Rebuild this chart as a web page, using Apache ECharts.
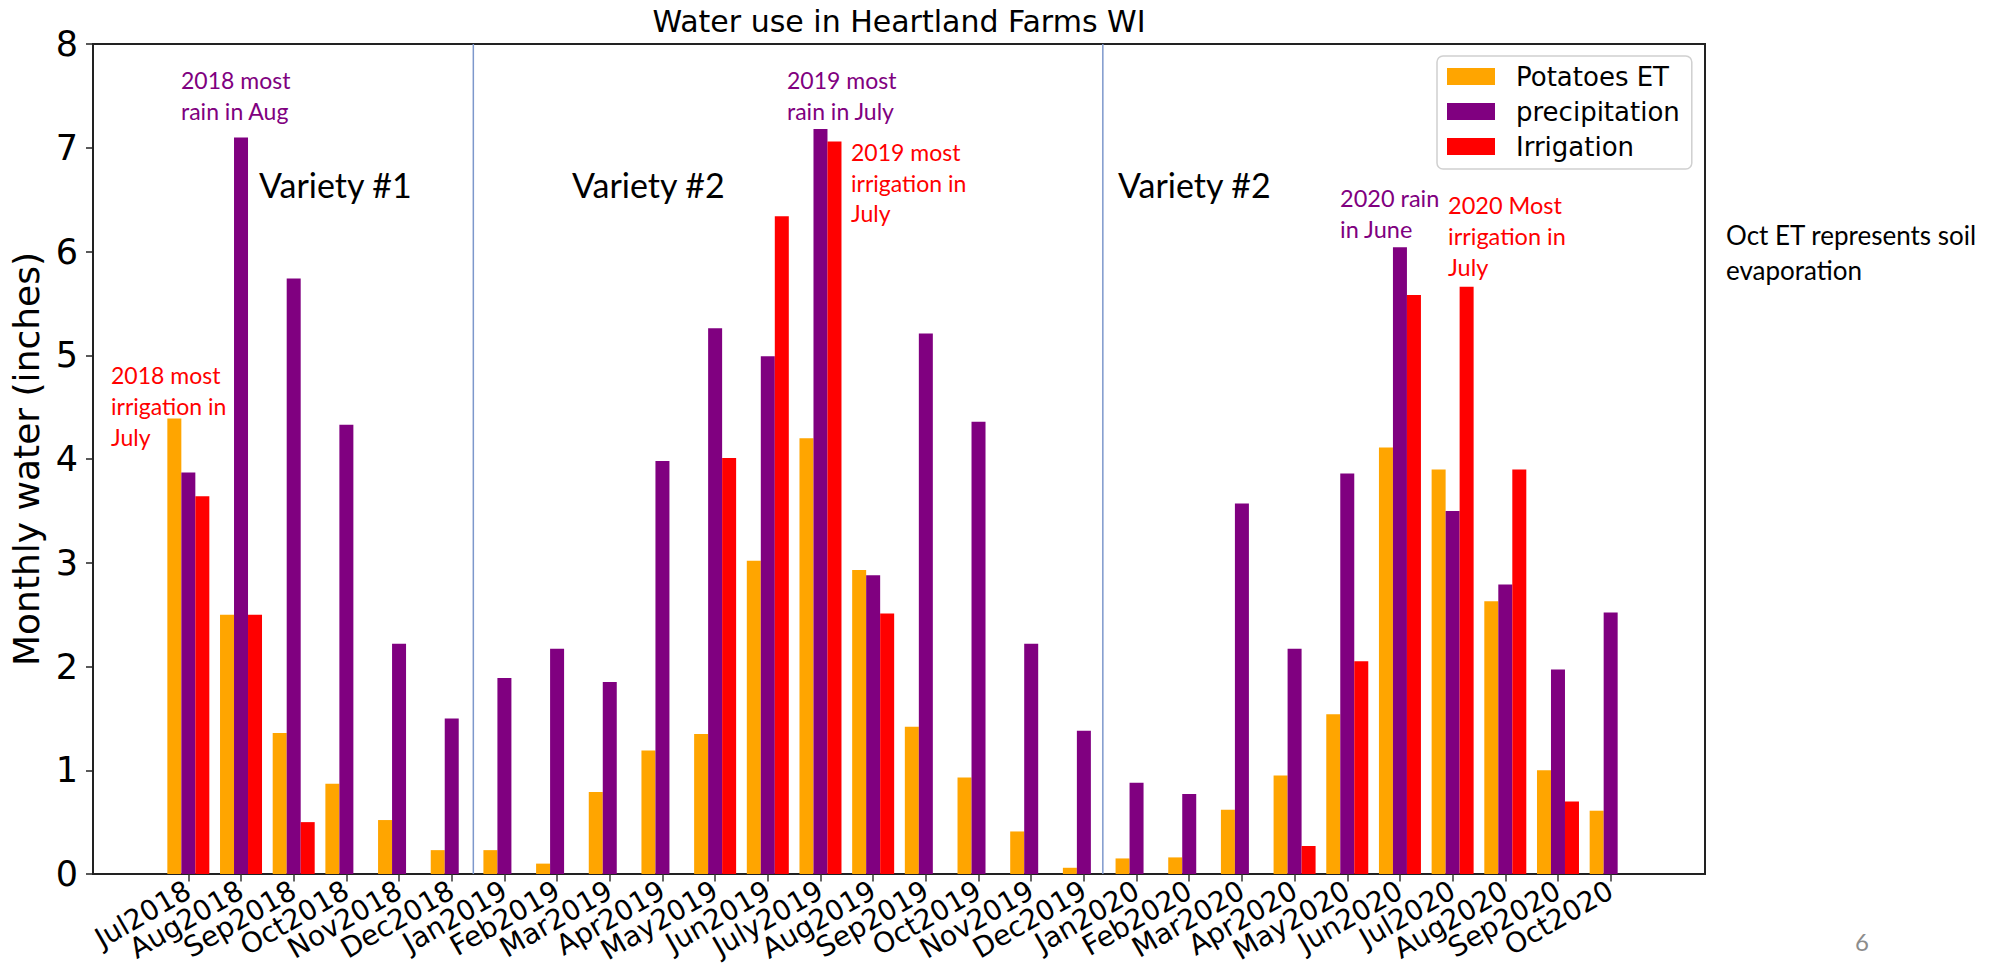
<!DOCTYPE html>
<html>
<head>
<meta charset="utf-8">
<title>Water use in Heartland Farms WI</title>
<script src="https://cdn.jsdelivr.net/npm/echarts@6/dist/echarts.min.js"></script>
<style>
html, body { margin: 0; padding: 0; background: #fff; }
#main { width: 2009px; height: 976px; }
</style>
</head>
<body>
<div id="main"></div>
<script>
// months on the x axis
var months = ['Jul2018', 'Aug2018', 'Sep2018', 'Oct2018', 'Nov2018', 'Dec2018',
  'Jan2019', 'Feb2019', 'Mar2019', 'Apr2019', 'May2019', 'Jun2019', 'July2019',
  'Aug2019', 'Sep2019', 'Oct2019', 'Nov2019', 'Dec2019', 'Jan2020', 'Feb2020',
  'Mar2020', 'Apr2020', 'May2020', 'Jun2020', 'Jul2020', 'Aug2020', 'Sep2020', 'Oct2020'];

// monthly water, inches
var potatoesET = [4.39, 2.50, 1.36, 0.87, 0.52, 0.23, 0.23, 0.10, 0.79, 1.19, 1.35, 3.02, 4.20, 2.93,
  1.42, 0.93, 0.41, 0.06, 0.15, 0.16, 0.62, 0.95, 1.54, 4.11, 3.90, 2.63, 1.00, 0.61];
var precipitation = [3.87, 7.10, 5.74, 4.33, 2.22, 1.50, 1.89, 2.17, 1.85, 3.98, 5.26, 4.99, 7.18, 2.88,
  5.21, 4.36, 2.22, 1.38, 0.88, 0.77, 3.57, 2.17, 3.86, 6.04, 3.50, 2.79, 1.97, 2.52];
var irrigation = [3.64, 2.50, 0.50, 0, 0, 0, 0, 0, 0, 0, 4.01, 6.34, 7.06, 2.51,
  0, 0, 0, 0, 0, 0, 0, 0.27, 2.05, 5.58, 5.66, 3.90, 0.70, 0];

// y axis range and the two season dividers (in month index units)
var yMin = 0, yMax = 8, yStep = 1;
var dividers = [5.41, 17.36];

// layout (pixels)
var frameLeft = 93, frameRight = 1705, gridTop = 44, gridBottom = 874;
var barLeft = 162, barRight = 1637;
var W = 2009, H = 976;

var band = (barRight - barLeft) / months.length;
var idxMin = (frameLeft - barLeft) / band - 0.5;
var idxMax = (frameRight - barLeft) / band - 0.5;

var notes = [
  {text: '2018 most\nrain in Aug', x: 181, y: 64, color: '#800080', size: 23, lh: 31.5},
  {text: 'Variety #1', x: 259, y: 168, color: '#000', size: 34, lh: 32},
  {text: 'Variety #2', x: 572, y: 168, color: '#000', size: 34, lh: 32},
  {text: '2019 most\nrain in July', x: 787, y: 64, color: '#800080', size: 23, lh: 31.5},
  {text: '2019 most\nirrigation in\nJuly', x: 851, y: 137, color: '#ff0000', size: 23, lh: 30.5},
  {text: 'Variety #2', x: 1118, y: 168, color: '#000', size: 34, lh: 32},
  {text: '2020 rain\nin June', x: 1340, y: 182, color: '#800080', size: 23.5, lh: 31.5},
  {text: '2020 Most\nirrigation in\nJuly', x: 1448, y: 189, color: '#ff0000', size: 23.5, lh: 31},
  {text: '2018 most\nirrigation in\nJuly', x: 111, y: 359, color: '#ff0000', size: 23, lh: 31},
  {text: 'Oct ET represents soil\nevaporation', x: 1726, y: 218, color: '#000', size: 26, lh: 34.5},
  {text: '6', x: 1855, y: 929, color: '#8c8c8c', size: 24, lh: 24}
];

var graphics = notes.map(function (n) {
  return {
    type: 'text', x: n.x, y: n.y, silent: true,
    style: {
      text: n.text, fill: n.color, fontFamily: 'Lato', fontSize: n.size,
      lineHeight: n.lh, align: 'left', verticalAlign: 'top'
    }
  };
});
graphics.push({
  type: 'text', x: (frameLeft + frameRight) / 2, y: 6, silent: true,
  style: {
    text: 'Water use in Heartland Farms WI', fill: '#000', fontFamily: 'DejaVu Sans',
    fontSize: 30, align: 'center', verticalAlign: 'top'
  }
});

var dividerSeries = dividers.map(function (d, i) {
  return {
    name: 'divider' + i, type: 'line', xAxisIndex: 0, yAxisIndex: 0,
    data: [[d, yMin], [d, yMax]], symbol: 'none', silent: true,
    lineStyle: {color: '#7d98cc', width: 1.5}, z: 1
  };
});

var myChart = echarts.init(document.getElementById('main'), null, {renderer: 'svg'});

myChart.setOption({
  animation: false,
  backgroundColor: '#fff',
  textStyle: {fontFamily: 'DejaVu Sans'},
  grid: [
    {left: frameLeft, right: W - frameRight, top: gridTop, bottom: H - gridBottom,
      show: true, borderColor: '#222', borderWidth: 2, backgroundColor: 'transparent'},
    {left: barLeft, right: W - barRight, top: gridTop, bottom: H - gridBottom}
  ],
  legend: {
    orient: 'vertical', left: 1437, top: 56,
    padding: [3, 12, 5, 10],
    itemWidth: 48, itemHeight: 17, itemGap: 0, icon: 'rect',
    backgroundColor: '#fff', borderColor: '#d0d0d0', borderWidth: 1.5, borderRadius: 6,
    textStyle: {fontFamily: 'DejaVu Sans', fontSize: 26, color: '#000', lineHeight: 35,
      padding: [0, 0, 0, 16]},
    data: ['Potatoes ET', 'precipitation', 'Irrigation']
  },
  xAxis: [
    {type: 'value', gridIndex: 0, min: idxMin, max: idxMax, show: false},
    {type: 'category', gridIndex: 1, data: months,
      axisLine: {show: false},
      axisTick: {show: true, alignWithLabel: true, length: 7.5, lineStyle: {color: '#333', width: 1.5}},
      axisLabel: {interval: 0, rotate: 30, fontSize: 28, color: '#000', margin: 14, fontFamily: 'DejaVu Sans'}}
  ],
  yAxis: [
    {type: 'value', gridIndex: 0, min: yMin, max: yMax, interval: yStep,
      name: 'Monthly water (inches)', nameLocation: 'middle', nameGap: 48,
      nameTextStyle: {fontSize: 36, color: '#000', fontFamily: 'DejaVu Sans'},
      axisLine: {show: true, onZero: false, lineStyle: {color: '#222', width: 2}},
      axisTick: {show: true, length: 7, lineStyle: {color: '#222', width: 1.5}},
      axisLabel: {fontSize: 35, color: '#000', margin: 15, fontFamily: 'DejaVu Sans'},
      splitLine: {show: false}},
    {type: 'value', gridIndex: 1, min: yMin, max: yMax, interval: yStep, show: false,
      splitLine: {show: false}}
  ],
  series: dividerSeries.concat([
    {name: 'Potatoes ET', type: 'bar', xAxisIndex: 1, yAxisIndex: 1, data: potatoesET,
      barWidth: 14, barGap: '0%', itemStyle: {color: '#ffa500'}},
    {name: 'precipitation', type: 'bar', xAxisIndex: 1, yAxisIndex: 1, data: precipitation,
      barWidth: 14, barGap: '0%', itemStyle: {color: '#800080'}},
    {name: 'Irrigation', type: 'bar', xAxisIndex: 1, yAxisIndex: 1, data: irrigation,
      barWidth: 14, barGap: '0%', itemStyle: {color: '#ff0000'}}
  ]),
  graphic: graphics
});
</script>
</body>
</html>
